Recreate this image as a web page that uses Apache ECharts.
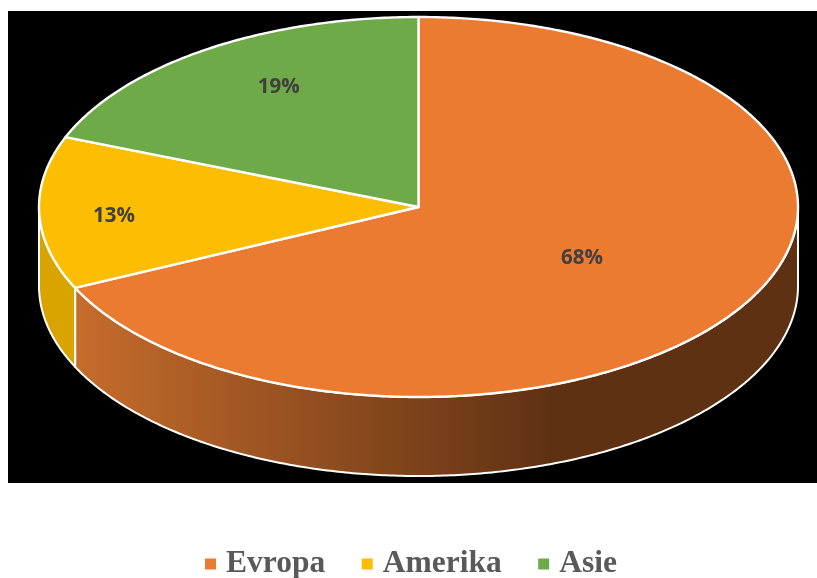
<!DOCTYPE html>
<html>
<head>
<meta charset="utf-8">
<style>html,body{margin:0;padding:0;background:#fff}#c{width:817px;height:578px}</style>
<script src="https://cdn.jsdelivr.net/npm/echarts@6/dist/echarts.min.js"></script>
</head>
<body>
<div id="c"></div>
<script>
var categories = ['Evropa', 'Amerika', 'Asie'];
var shares = [68, 13, 19];
var topColors = ['#EB7B30', '#FDBD00', '#6FAA48'];

var CX = 418.5, CY = 207, RX = 379.5, RY = 190, DEPTH = 79;
var labelFactors = [[0.51, 0.5], [0.803, 1.6], [0.655, 0.76]];
var sideFills = [
  new echarts.graphic.LinearGradient(75, 0, 555, 0, [
    {offset: 0, color: '#C66C2C'}, {offset: 1, color: '#5E3113'}
  ], true),
  '#D9A300',
  '#5E3113'
];
var total = shares.reduce(function (a, b) { return a + b; }, 0);

function pt(t, dy) {
  return [CX + RX * Math.sin(t), CY - RY * Math.cos(t) + (dy || 0)];
}
function arc(a, b, dy) {
  var n = Math.max(2, Math.ceil(Math.abs(b - a) / 0.01)), out = [];
  for (var i = 0; i <= n; i++) out.push(pt(a + (b - a) * i / n, dy));
  return out;
}

function makeRender(index) {
  var before = 0;
  for (var i = 0; i < index; i++) before += shares[i];
  return function (params, api) {
    var v = api.value(0);
    var a = before / total * 2 * Math.PI;
    var b = (before + v) / total * 2 * Math.PI;
    var children = [];
    var s = Math.max(a, Math.PI / 2), e = Math.min(b, 3 * Math.PI / 2);
    if (e > s) {
      children.push({
        type: 'polygon',
        shape: {points: arc(s, e, 0).concat(arc(e, s, DEPTH))},
        style: {fill: sideFills[index], stroke: '#fff', lineWidth: 2, lineJoin: 'round'}
      });
    }
    children.push({
      type: 'polygon',
      shape: {points: [[CX, CY]].concat(arc(a, b, 0))},
      style: {fill: topColors[index], stroke: '#fff', lineWidth: 2.4, lineJoin: 'round'}
    });
    var mid = (a + b) / 2, f = labelFactors[index];
    children.push({
      type: 'text',
      z2: 10,
      style: {
        x: CX + RX * Math.sin(mid) * f[0],
        y: CY - RY * Math.cos(mid) * f[1],
        text: v + '%',
        align: 'center',
        verticalAlign: 'middle',
        fill: '#404040',
        font: 'bold 20.5px "Open Sans"'
      }
    });
    return {type: 'group', children: children};
  };
}

var chart = echarts.init(document.getElementById('c'), null, {renderer: 'canvas'});
chart.setOption({
  animation: false,
  backgroundColor: '#fff',
  graphic: [{
    type: 'rect', z: 0,
    shape: {x: 8, y: 11, width: 809, height: 472},
    style: {fill: '#000'}, silent: true
  }],
  legend: {
    data: categories,
    left: 205,
    top: 548,
    padding: 0,
    icon: 'rect',
    itemWidth: 11,
    itemHeight: 11,
    itemGap: 36.5,
    selectedMode: false,
    textStyle: {
      color: '#595959',
      fontFamily: '"Liberation Serif"',
      fontWeight: 'bold',
      fontSize: 31.5,
      padding: [8, 0, 0, 5]
    }
  },
  series: categories.map(function (name, i) {
    return {
      type: 'custom',
      name: name,
      coordinateSystem: 'none',
      silent: true,
      z: i === 0 ? 2 : 3,
      itemStyle: {color: topColors[i]},
      renderItem: makeRender(i),
      data: [[shares[i]]]
    };
  })
});
</script>
</body>
</html>
